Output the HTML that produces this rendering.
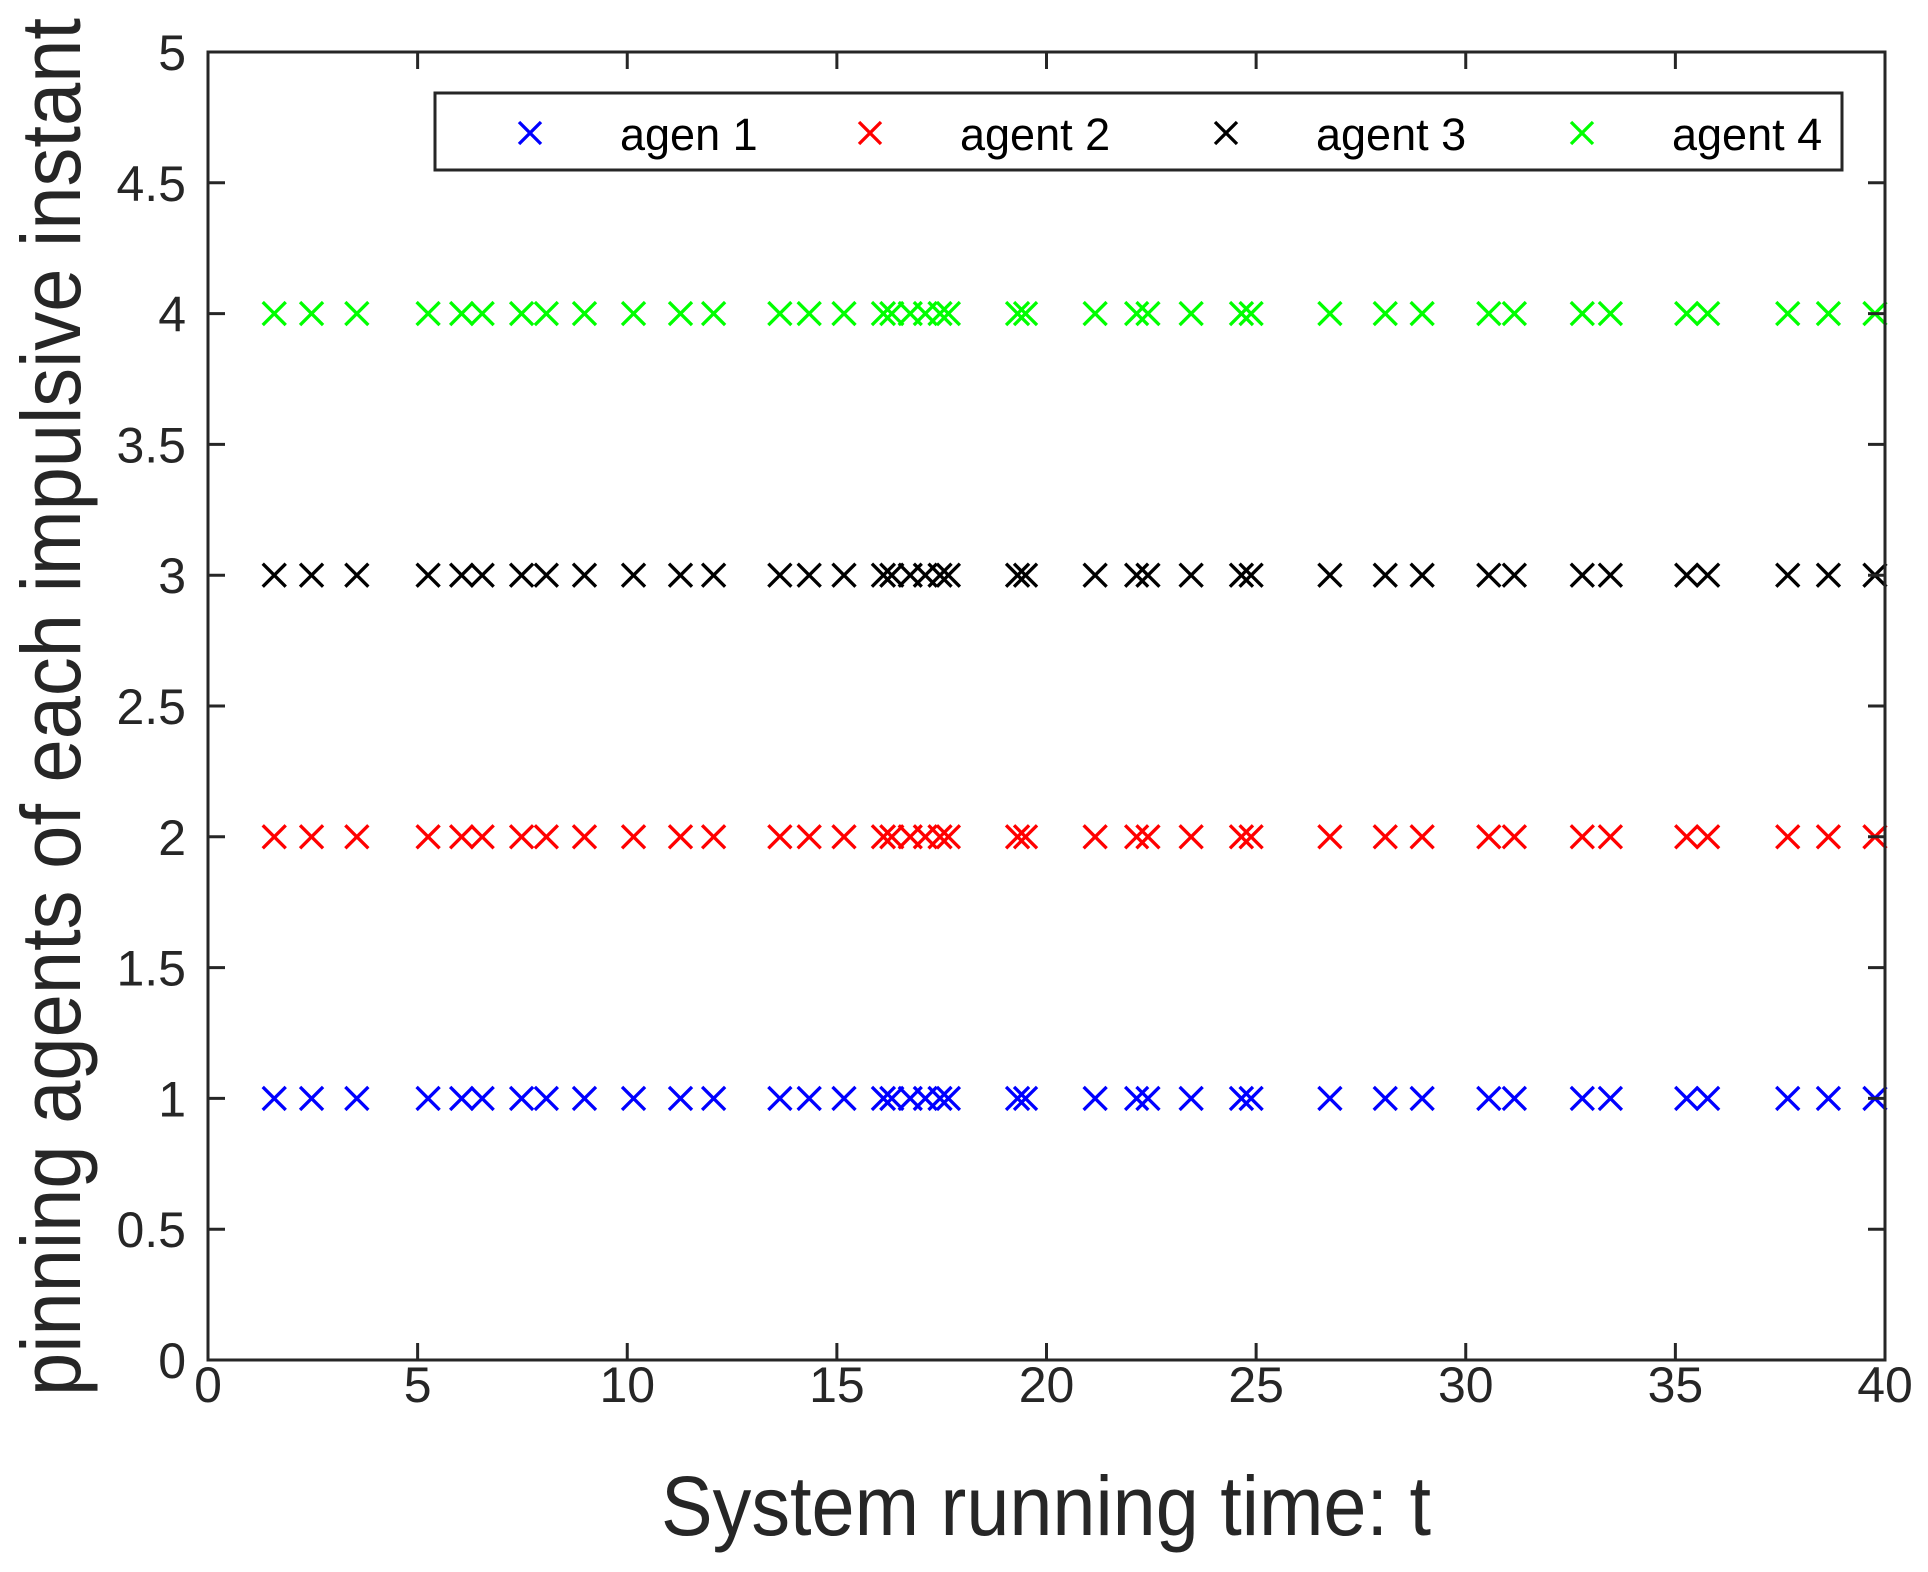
<!DOCTYPE html>
<html><head><meta charset="utf-8"><style>
html,body{margin:0;padding:0;background:#fff;}
svg{display:block;font-family:"Liberation Sans",Arial,sans-serif;}
</style></head><body>
<svg id="chart" width="1928" height="1572" viewBox="0 0 1928 1572" xmlns="http://www.w3.org/2000/svg">
<rect x="0" y="0" width="1928" height="1572" fill="#fff"/>
<g id="marks"></g>
<g id="axes"></g>
<text x="1046" y="1535" font-size="84" fill="#262626" text-anchor="middle" textLength="770" lengthAdjust="spacingAndGlyphs">System running time: t</text>
<text transform="translate(80,707) rotate(-90)" font-size="84" fill="#262626" text-anchor="middle" textLength="1378" lengthAdjust="spacingAndGlyphs">pinning agents of each impulsive instant</text>
<g>
<rect x="435" y="93" width="1407" height="77" fill="#fff" stroke="#262626" stroke-width="3"/>
<g id="legend-items"></g>
</g>
</svg>
<script>
const times = [1.58,2.47,3.55,5.25,6.05,6.54,7.48,8.07,8.98,10.15,11.27,12.06,13.64,14.34,15.17,16.11,16.31,16.75,17.11,17.46,17.66,19.31,19.5,21.16,22.15,22.42,23.45,24.65,24.88,26.76,28.08,28.96,30.55,31.16,32.78,33.45,35.27,35.77,37.68,38.65,39.76];
const agentLevels = [1,2,3,4];
const agentColors = ["#0000ff","#ff0000","#000000","#00ff00"];
const legendLabels = ["agen 1","agent 2","agent 3","agent 4"];
const xTicks = [0,5,10,15,20,25,30,35,40];
const yTicks = [0,0.5,1,1.5,2,2.5,3,3.5,4,4.5,5];
const xTickLabels = ["0","5","10","15","20","25","30","35","40"];
const yTickLabels = ["0","0.5","1","1.5","2","2.5","3","3.5","4","4.5","5"];

const NS="http://www.w3.org/2000/svg";
const L=208,R=1885,T=52,B=1360;
const xs=v=>L+(v-0)/(40-0)*(R-L);
const ys=v=>B-(v-0)/(5-0)*(B-T);
function mk(tag,attrs,parent){const e=document.createElementNS(NS,tag);for(const k in attrs)e.setAttribute(k,attrs[k]);parent.appendChild(e);return e;}
function cross(parent,cx,cy,c,h){
  return mk("path",{d:`M${cx-h},${cy-h}L${cx+h},${cy+h}M${cx-h},${cy+h}L${cx+h},${cy-h}`,stroke:c,"stroke-width":3.3,fill:"none"},parent);
}
const marks=document.getElementById("marks");
agentLevels.forEach((lv,i)=>{
  const g=mk("g",{},marks);
  
  
  times.forEach(t=>{
    const p=cross(g,xs(t),ys(lv),agentColors[i],11.5);
    
    
  });
});
const axes=document.getElementById("axes");
const box=mk("rect",{x:L,y:T,width:R-L,height:B-T,fill:"none",stroke:"#262626","stroke-width":3},axes);


xTicks.forEach((v,i)=>{
  const x=xs(v);
  mk("line",{x1:x,y1:B,x2:x,y2:B-17,stroke:"#262626","stroke-width":3},axes);
  mk("line",{x1:x,y1:T,x2:x,y2:T+17,stroke:"#262626","stroke-width":3},axes);
  const t=mk("text",{x:x,y:1402,"font-size":50,fill:"#262626","text-anchor":"middle"},axes);
  
  
  t.textContent=xTickLabels[i];
});
yTicks.forEach((v,i)=>{
  const y=ys(v);
  mk("line",{x1:L,y1:y,x2:L+17,y2:y,stroke:"#262626","stroke-width":3},axes);
  mk("line",{x1:R,y1:y,x2:R-17,y2:y,stroke:"#262626","stroke-width":3},axes);
  const t=mk("text",{x:186,y:y+18,"font-size":50,fill:"#262626","text-anchor":"end"},axes);
  
  
  t.textContent=yTickLabels[i];
});
const leg=document.getElementById("legend-items");
const legMx=[530,870,1226,1582];
legendLabels.forEach((lab,i)=>{
  const g=mk("g",{},leg);
  
  
  cross(g,legMx[i],133,agentColors[i],11);
  const t=mk("text",{x:legMx[i]+90,y:150,"font-size":45,fill:"#000"},g);
  t.textContent=lab;
});
</script>
</body></html>
